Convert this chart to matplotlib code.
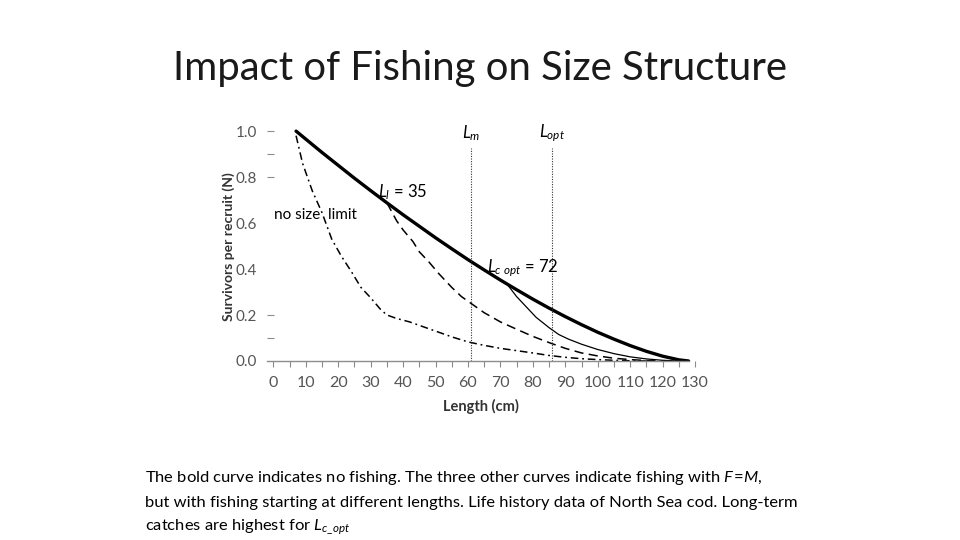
import matplotlib
matplotlib.use("Agg")
import matplotlib.pyplot as plt
from matplotlib.ticker import FixedLocator

plt.rcParams['font.family'] = ['Lato', 'DejaVu Sans']
plt.rcParams['mathtext.fontset'] = 'custom'
plt.rcParams['mathtext.rm'] = 'Lato'
plt.rcParams['mathtext.it'] = 'Lato:italic'
plt.rcParams['mathtext.bf'] = 'Lato:bold'

# ---- data ----
# no fishing (bold)
len_nofish = [7, 10, 15, 20, 25, 30, 35, 40, 45, 50, 55, 60, 65, 70, 75, 80,
              85, 90, 95, 100, 105, 110, 115, 120, 125, 128]
surv_nofish = [1.0, 0.965, 0.907, 0.851, 0.795, 0.741, 0.688, 0.636, 0.586, 0.536,
               0.488, 0.441, 0.396, 0.352, 0.310, 0.269, 0.230, 0.193, 0.158, 0.125,
               0.095, 0.067, 0.042, 0.021, 0.005, 0.0]

# fishing with no size limit (dash-dot)
len_nolimit = [7, 9, 12, 15, 18, 21, 24, 27, 30, 33, 35, 38, 42, 46, 50, 55, 60,
               65, 70, 75, 80, 85, 90, 95, 100, 105, 110, 115]
surv_nolimit = [0.98, 0.86, 0.74, 0.645, 0.53, 0.455, 0.39, 0.32, 0.275, 0.225, 0.20,
                0.185, 0.17, 0.15, 0.13, 0.105, 0.083, 0.068, 0.055, 0.045, 0.035,
                0.024, 0.016, 0.010, 0.006, 0.003, 0.001, 0.0]

# fishing from Ll = 35 (dashed)
len_l35 = [35, 38, 40, 43, 45, 48, 51, 55, 58, 61, 65, 70, 75, 80, 85, 90, 95,
           100, 105, 110, 115, 120]
surv_l35 = [0.688, 0.61, 0.57, 0.52, 0.475, 0.43, 0.38, 0.32, 0.28, 0.25, 0.21,
            0.17, 0.138, 0.107, 0.08, 0.055, 0.035, 0.022, 0.012, 0.006, 0.002, 0.0]

# fishing from Lc_opt = 72 (thin solid)
len_l72 = [72, 75, 78, 81, 85, 88, 91, 95, 100, 105, 110, 115, 120, 125]
surv_l72 = [0.335, 0.28, 0.235, 0.19, 0.145, 0.115, 0.095, 0.073, 0.05, 0.032,
            0.018, 0.009, 0.003, 0.0]

L_m = 61
L_opt = 86

x_ticks = [0, 10, 20, 30, 40, 50, 60, 70, 80, 90, 100, 110, 120, 130]
y_ticks = [0.0, 0.2, 0.4, 0.6, 0.8, 1.0]
y_tick_labels = ['0.0', '0.2', '0.4', '0.6', '0.8', '1.0']
y_tick_marks = [0.1, 0.2, 0.8, 0.9, 1.0]

# ---- figure ----
fig = plt.figure(figsize=(9.6, 5.4), dpi=100)
fig.patch.set_facecolor('white')
ax = fig.add_axes([0.278, 0.3315, 0.446, 0.447])

ax.plot(len_nofish, surv_nofish, color='black', lw=2.4, solid_capstyle='round')
ax.plot(len_nolimit, surv_nolimit, color='black', lw=1.1, dashes=(5, 2.5, 1.2, 2.5))
ax.plot(len_l35, surv_l35, color='black', lw=1.1, dashes=(6, 3.5))
ax.plot(len_l72, surv_l72, color='black', lw=0.9)

for xv in (L_m, L_opt):
    ax.plot([xv, xv], [0, 0.925], color='#333333', lw=0.8, ls=(0, (1, 1.3)))

ax.set_xlim(-2, 130)
ax.set_ylim(0, 1.05)

for s in ('top', 'right', 'left'):
    ax.spines[s].set_visible(False)
ax.spines['bottom'].set_color('#8c8c8c')
ax.spines['bottom'].set_linewidth(1.0)
ax.spines['bottom'].set_bounds(-2, 128)

ax.set_xticks(x_ticks)
ax.set_xticklabels([str(v) for v in x_ticks])
ax.xaxis.set_minor_locator(FixedLocator([5, 15, 25, 35, 45, 55, 65, 75, 85, 95, 105, 115, 125]))
ax.tick_params(axis='x', which='both', direction='out', length=4, width=0.8,
               color='#8c8c8c', labelsize=11.5, labelcolor='#555555', pad=7)

ax.set_yticks(y_ticks)
ax.set_yticklabels(y_tick_labels)
ax.yaxis.remove_overlapping_locs = False
ax.yaxis.set_minor_locator(FixedLocator(y_tick_marks))
ax.tick_params(axis='y', which='major', length=0, labelsize=11, labelcolor='#555555', pad=7)
ax.tick_params(axis='y', which='minor', direction='in', length=5, width=0.8,
               color='#8c8c8c')

ax.set_xlabel('Length (cm)', fontsize=10.5, fontweight='bold', color='#333333', labelpad=6)
ax.set_ylabel('Survivors per recruit (N)', fontsize=10, fontweight='bold', color='#333333')
ax.yaxis.set_label_coords(-0.075, 0.472)

# annotations
ax.text(L_m, 0.99, r'$L_m$', fontsize=12, ha='center', va='center')
ax.text(L_opt, 0.99, r'$L_{opt}$', fontsize=12, ha='center', va='center')
ax.text(32.3, 0.735, r'$L_l$ = 35', fontsize=12, ha='left', va='center')
ax.text(0.3, 0.635, 'no size  limit', fontsize=11, ha='left', va='center')
ax.text(66, 0.405, r'$L_{c\ opt}$ = 72', fontsize=12, ha='left', va='center')

# title
fig.text(0.5, 0.874, 'Impact of Fishing on Size Structure', fontsize=28.9,
         ha='center', va='center', color='#1a1a1a')

# caption
cap = [
    r'The bold curve indicates no fishing. The three other curves indicate fishing with $F\!=\!M,$',
    'but with fishing starting at different lengths. Life history data of North Sea cod. Long-term',
    r'catches are highest for $L_{c\_opt}$',
]
ys = [478, 503, 527]
for line, yp in zip(cap, ys):
    fig.text(145 / 960, 1 - yp / 540, line, fontsize=11.85, ha='left', va='center',
             color='black')

fig.savefig('out.png', dpi=100, facecolor='white')
